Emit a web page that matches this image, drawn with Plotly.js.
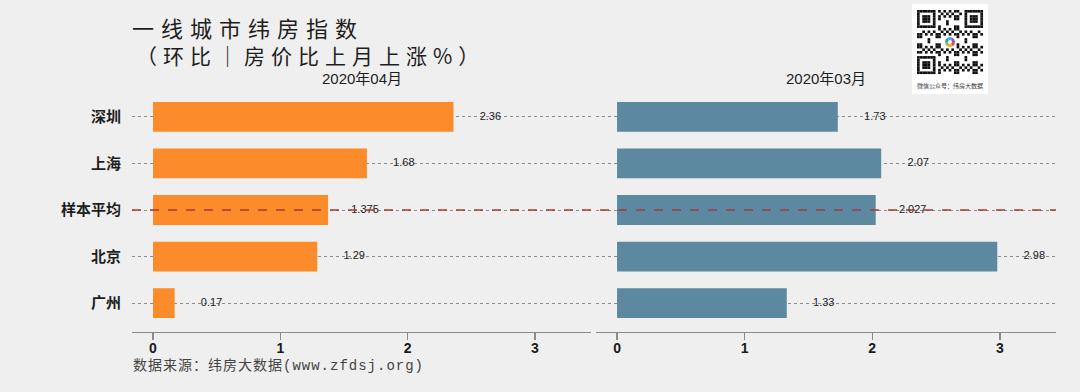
<!DOCTYPE html>
<html><head><meta charset="utf-8">
<script src="https://cdn.plot.ly/plotly-3.0.1.min.js"></script>
<style>html,body{margin:0;padding:0;background:#efefef;}</style>
</head><body><div id="chart" style="width:1080px;height:392px;"></div>
<script>
// ---- data ----
const cities = ['深圳', '上海', '样本平均', '北京', '广州'];
const aprValues = [2.36, 1.68, 1.375, 1.29, 0.17];
const marValues = [1.73, 2.07, 2.027, 2.98, 1.33];
const xTickVals = [0, 1, 2, 3];
const xTickText = ['0', '1', '2', '3'];
const panelTitles = ['2020年04月', '2020年03月'];
const avgCategory = '样本平均';
const titleLine1 = '一线城市纬房指数';
const titleLine2 = '（环比｜房价比上月上涨%）';
const sourceText = '数据来源：纬房大数据(www.zfdsj.org)';

// ---- styling ----
const W = 1080, H = 392;
const px = v => v / W, py = v => 1 - v / H;
const orange = '#fc8b2c', blue = '#5d89a0';
const labelNudge = 0.29;
const xRange = [-0.165, 3.44];
const yDom = [py(332), py(88)];
const xDom1 = [px(132), px(591)];
const xDom2 = [px(596), px(1056)];

function qrSvg() {
  const n = 25, ox = 5, oy = 6, w = 66, h = 64, mw = w / n, mh = h / n;
  let r = '<rect x="0" y="0" width="76" height="90" fill="#ffffff"/>';
  const inF = (i, j) => (i < 8 && j < 8) || (i < 8 && j >= n - 8) || (i >= n - 8 && j < 8);
  for (let i = 0; i < n; i++) for (let j = 0; j < n; j++) {
    let on;
    if (inF(i, j)) {
      const fi = i < 8 ? i : i - (n - 7), fj = j < 8 ? j : j - (n - 7);
      if (fi > 6 || fj > 6 || fi < 0 || fj < 0) on = false;
      else on = Math.max(Math.abs(fi - 3), Math.abs(fj - 3)) !== 2;
    } else if (i >= 10 && i <= 14 && j >= 10 && j <= 14) on = false;
    else on = ((i * i * 3 + j * j * 5 + i * j * 7 + i + 2 * j) % 7) < 3;
    if (on) r += `<rect x="${(ox + j * mw).toFixed(2)}" y="${(oy + i * mh).toFixed(2)}" width="${(mw + 0.06).toFixed(2)}" height="${(mh + 0.06).toFixed(2)}" fill="#111"/>`;
  }
  const cx = ox + 12.5 * mw, cy = oy + 12.5 * mh;
  const cols = ['#e84a5f', '#f9a825', '#8bc34a', '#26a69a', '#42a5f5', '#ab47bc'];
  cols.forEach((c, k) => {
    const a0 = k * Math.PI / 3, a1 = (k + 1) * Math.PI / 3, R = 5;
    r += `<path d="M${cx},${cy} L${(cx + R * Math.cos(a0)).toFixed(2)},${(cy + R * Math.sin(a0)).toFixed(2)} A${R},${R} 0 0 1 ${(cx + R * Math.cos(a1)).toFixed(2)},${(cy + R * Math.sin(a1)).toFixed(2)} Z" fill="${c}"/>`;
  });
  r += `<circle cx="${cx}" cy="${cy}" r="2" fill="#fff"/>`;
  r += '<text x="38" y="84" font-size="6" text-anchor="middle" fill="#333" font-family="Noto Sans CJK SC">微信公众号：纬房大数据</text>';
  const svg = `<svg xmlns="http://www.w3.org/2000/svg" width="76" height="90" viewBox="0 0 76 90">${r}</svg>`;
  return 'data:image/svg+xml;charset=utf-8,' + encodeURIComponent(svg);
}

const labelFont = {family: 'Arial, Liberation Sans, sans-serif', size: 11, color: '#222'};
const traces = [
  {type: 'bar', orientation: 'h', x: aprValues, y: cities, xaxis: 'x', yaxis: 'y',
   marker: {color: orange}, width: 0.64, hoverinfo: 'skip'},
  {type: 'scatter', mode: 'text', x: aprValues.map(v => v + labelNudge), y: cities,
   text: aprValues.map(String), textfont: labelFont, xaxis: 'x', yaxis: 'y', hoverinfo: 'skip'},
  {type: 'bar', orientation: 'h', x: marValues, y: cities, xaxis: 'x2', yaxis: 'y2',
   marker: {color: blue}, width: 0.64, hoverinfo: 'skip'},
  {type: 'scatter', mode: 'text', x: marValues.map(v => v + labelNudge), y: cities,
   text: marValues.map(String), textfont: labelFont, xaxis: 'x2', yaxis: 'y2', hoverinfo: 'skip'}
];

const xAxisBase = {
  range: xRange, tickvals: xTickVals, ticktext: xTickText, showgrid: false, zeroline: false,
  showline: true, linecolor: '#8a8a8a', linewidth: 1.3, ticks: 'outside', ticklen: 7,
  tickcolor: '#8a8a8a', tickwidth: 1.3, fixedrange: true, ticklabelstandoff: -4,
  tickfont: {family: 'Arial, Liberation Sans, sans-serif', size: 14, color: '#1a1a1a', weight: 'bold'}
};
const yAxisBase = {
  type: 'category', categoryorder: 'array', categoryarray: cities, range: [4.62, -0.62],
  domain: yDom, showgrid: true, gridcolor: '#8c8c8c', griddash: 'dot', gridwidth: 1,
  zeroline: false, showline: false, ticks: '', fixedrange: true
};

const layout = {
  width: W, height: H, margin: {l: 0, r: 0, t: 0, b: 0},
  paper_bgcolor: '#efefef', plot_bgcolor: '#efefef', showlegend: false, bargap: 0.36,
  title: {
    text: `<span style="letter-spacing:7px">${titleLine1}</span>`,
    x: px(132), xanchor: 'left', xref: 'paper', y: py(29), yref: 'container', yanchor: 'middle',
    font: {family: 'Noto Sans CJK SC, sans-serif', size: 22, color: '#1e1e1e'}
  },
  xaxis: Object.assign({}, xAxisBase, {domain: xDom1, anchor: 'y'}),
  xaxis2: Object.assign({}, xAxisBase, {domain: xDom2, anchor: 'y2'}),
  yaxis: Object.assign({}, yAxisBase, {anchor: 'x', showticklabels: true, ticklabelstandoff: 10,
    tickfont: {family: 'Noto Sans CJK SC, sans-serif', size: 15, color: '#1e1e1e', weight: 'bold'}}),
  yaxis2: Object.assign({}, yAxisBase, {anchor: 'x2', showticklabels: false}),
  shapes: [{
    type: 'line', xref: 'paper', yref: 'y', x0: xDom1[0], x1: xDom2[1],
    y0: cities.indexOf(avgCategory), y1: cities.indexOf(avgCategory),
    line: {color: '#a53a3c', width: 1.5, dash: 'dash'}, layer: 'above'
  }],
  annotations: [
    {text: `<span style="letter-spacing:6px">${titleLine2}</span>`, xref: 'paper', yref: 'paper',
     x: px(134), y: py(55), xanchor: 'left', yanchor: 'middle', showarrow: false,
     font: {family: 'Noto Sans CJK SC, sans-serif', size: 21, color: '#1e1e1e'}},
    {text: panelTitles[0], xref: 'paper', yref: 'paper', x: (xDom1[0] + xDom1[1]) / 2, y: py(78),
     xanchor: 'center', yanchor: 'middle', showarrow: false,
     font: {family: 'Arial, Liberation Sans, Noto Sans CJK SC, sans-serif', size: 15, color: '#1e1e1e'}},
    {text: panelTitles[1], xref: 'paper', yref: 'paper', x: (xDom2[0] + xDom2[1]) / 2, y: py(78),
     xanchor: 'center', yanchor: 'middle', showarrow: false,
     font: {family: 'Arial, Liberation Sans, Noto Sans CJK SC, sans-serif', size: 15, color: '#1e1e1e'}},
    {text: `<span style="letter-spacing:1px">${sourceText}</span>`, xref: 'paper', yref: 'paper',
     x: px(131), y: py(366), xanchor: 'left', yanchor: 'middle', showarrow: false,
     font: {family: 'Liberation Mono, Noto Sans CJK SC, monospace', size: 14, color: '#444'}}
  ],
  images: [{source: qrSvg(), xref: 'paper', yref: 'paper', x: px(912), y: py(4),
    sizex: px(76), sizey: 90 / H, xanchor: 'left', yanchor: 'top', sizing: 'stretch', layer: 'above'}]
};

Plotly.newPlot('chart', traces, layout, {displayModeBar: false, staticPlot: true});
</script></body></html>
